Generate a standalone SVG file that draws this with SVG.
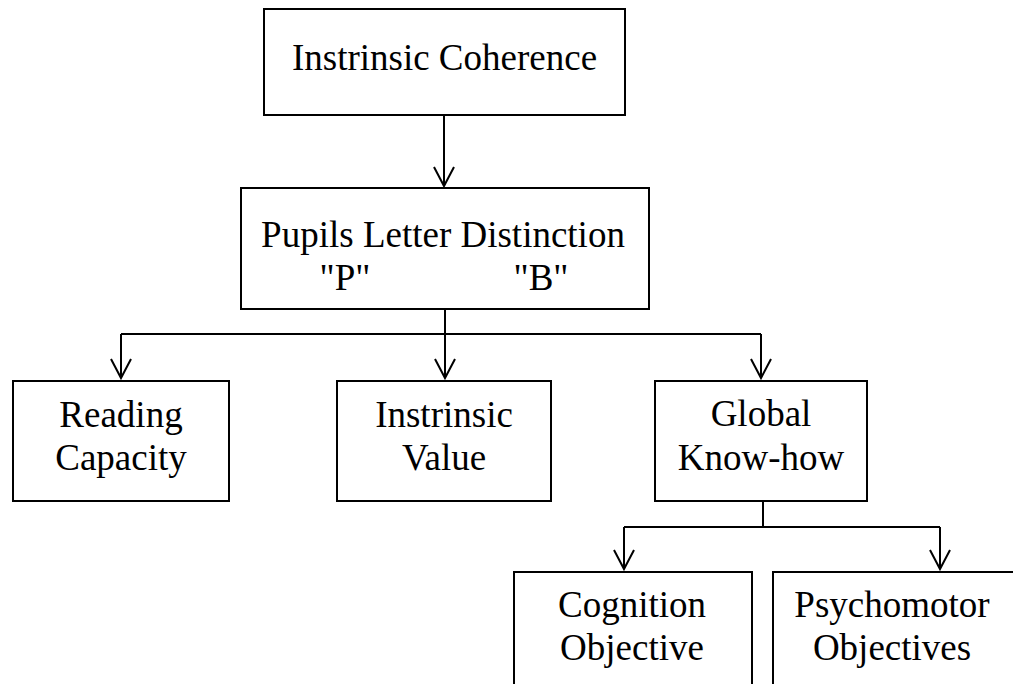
<svg xmlns="http://www.w3.org/2000/svg" width="1013" height="684" viewBox="0 0 1013 684">
  <style>
    .box { fill: #fff; stroke: #000; stroke-width: 2; }
    .lbl { font-family: "Liberation Serif", "Times New Roman", serif; font-size: 37px; fill: #000; text-anchor: middle; }
    .edge { fill: none; stroke: #000; stroke-width: 2; }
  </style>
  <defs>
    <marker id="vhead" markerUnits="userSpaceOnUse" viewBox="-21 -12 24 24" refX="0" refY="0" markerWidth="24" markerHeight="24" orient="auto">
      <path d="M-19,-10 L0,0 L-19,10" fill="none" stroke="#000" stroke-width="2"/>
    </marker>
  </defs>
  <rect width="1013" height="684" fill="#fff"/>

  <g id="connectors">
    <path class="edge" d="M444,115 V186" marker-end="url(#vhead)"/>
    <path class="edge" d="M445,309 V334"/>
    <path class="edge" d="M121,334 H761"/>
    <path class="edge" d="M121,334 V378" marker-end="url(#vhead)"/>
    <path class="edge" d="M445,334 V378" marker-end="url(#vhead)"/>
    <path class="edge" d="M761,334 V378" marker-end="url(#vhead)"/>
    <path class="edge" d="M763,501 V527"/>
    <path class="edge" d="M624,527 H940"/>
    <path class="edge" d="M624,527 V569" marker-end="url(#vhead)"/>
    <path class="edge" d="M940,527 V569" marker-end="url(#vhead)"/>
  </g>

  <g id="intrinsic-coherence">
    <rect class="box" x="264" y="9" width="361" height="106"/>
    <text class="lbl" x="444.5" y="70">Instrinsic Coherence</text>
  </g>

  <g id="letter-distinction">
    <rect class="box" x="241" y="188" width="408" height="121"/>
    <text class="lbl" x="443" y="247">Pupils Letter Distinction</text>
    <text class="lbl" y="290"><tspan x="345">"P"</tspan><tspan x="541">"B"</tspan></text>
  </g>

  <g id="reading-capacity">
    <rect class="box" x="13" y="381" width="216" height="120"/>
    <text class="lbl" x="121" y="427">Reading</text>
    <text class="lbl" x="121" y="470">Capacity</text>
  </g>

  <g id="intrinsic-value">
    <rect class="box" x="337" y="381" width="214" height="120"/>
    <text class="lbl" x="444" y="427">Instrinsic</text>
    <text class="lbl" x="444" y="470">Value</text>
  </g>

  <g id="global-know-how">
    <rect class="box" x="655" y="381" width="212" height="120"/>
    <text class="lbl" x="761" y="426">Global</text>
    <text class="lbl" x="761" y="470">Know-how</text>
  </g>

  <g id="cognition-objective">
    <rect class="box" x="514" y="572" width="238" height="200"/>
    <text class="lbl" x="632" y="617">Cognition</text>
    <text class="lbl" x="632" y="660">Objective</text>
  </g>

  <g id="psychomotor-objectives">
    <rect class="box" x="773" y="572" width="260" height="200"/>
    <text class="lbl" x="892" y="617">Psychomotor</text>
    <text class="lbl" x="892" y="660">Objectives</text>
  </g>
</svg>
